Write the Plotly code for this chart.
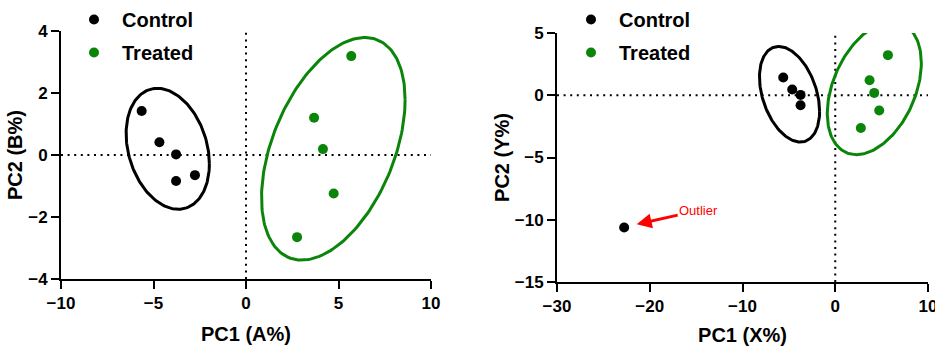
import numpy as np
import plotly.graph_objects as go

# ---------------- data ----------------
# Left panel (PC1 A% vs PC2 B%)
ctrl_a_x = [-5.64, -4.68, -3.78, -3.78, -2.76]
ctrl_a_y = [1.42, 0.41, 0.02, -0.84, -0.65]
trt_a_x = [5.69, 3.68, 4.16, 4.74, 2.76]
trt_a_y = [3.19, 1.20, 0.19, -1.24, -2.65]

# Right panel (PC1 X% vs PC2 Y%)
ctrl_b_x = [-5.61, -4.64, -3.74, -3.74, -22.76]
ctrl_b_y = [1.42, 0.46, 0.03, -0.80, -10.62]
trt_b_x = [5.68, 3.70, 4.20, 4.74, 2.76]
trt_b_y = [3.22, 1.21, 0.19, -1.23, -2.63]

# confidence ellipses: centre x, centre y, half-extent x, half-extent y, correlation
ell_ctrl_a = (-4.23, 0.20, 2.25, 1.95, -0.25)
ell_trt_a = (4.72, 0.20, 3.88, 3.59, 0.44)
ell_ctrl_b = (-4.93, 0.08, 3.24, 3.84, -0.36)
ell_trt_b = (4.21, 0.56, 5.07, 5.33, 0.38)

x_range_a = [-10, 10]
y_range_a = [-4, 4]
x_range_b = [-30, 10]
y_range_b = [-15, 5]
x_ticks_a = [-10, -5, 0, 5, 10]
y_ticks_a = [-4, -2, 0, 2, 4]
x_ticks_b = [-30, -20, -10, 0, 10]
y_ticks_b = [-15, -10, -5, 0, 5]

GREEN = "#0a850a"
BLACK = "#000000"
FONT = "Liberation Sans, Arial, sans-serif"


def ellipse(params, n=200):
    cx, cy, sx, sy, rho = params
    cov = np.array([[sx * sx, rho * sx * sy], [rho * sx * sy, sy * sy]])
    L = np.linalg.cholesky(cov)
    t = np.linspace(0, 2 * np.pi, n)
    pts = L @ np.vstack([np.cos(t), np.sin(t)])
    return pts[0] + cx, pts[1] + cy


fig = go.Figure()

panels = [
    ("x", "y", "legend", ctrl_a_x, ctrl_a_y, trt_a_x, trt_a_y, ell_ctrl_a, ell_trt_a),
    ("x2", "y2", "legend2", ctrl_b_x, ctrl_b_y, trt_b_x, trt_b_y, ell_ctrl_b, ell_trt_b),
]
for xa, ya, lg, cx_, cy_, tx_, ty_, ec, et in panels:
    ex, ey = ellipse(ec)
    fig.add_trace(go.Scatter(x=ex, y=ey, mode="lines", line=dict(color=BLACK, width=3),
                             xaxis=xa, yaxis=ya, showlegend=False, hoverinfo="skip"))
    ex, ey = ellipse(et)
    fig.add_trace(go.Scatter(x=ex, y=ey, mode="lines", line=dict(color=GREEN, width=3),
                             xaxis=xa, yaxis=ya, showlegend=False, hoverinfo="skip"))
    fig.add_trace(go.Scatter(x=cx_, y=cy_, mode="markers", name="Control",
                             marker=dict(color=BLACK, size=10), xaxis=xa, yaxis=ya,
                             legend=lg, legendgroup=lg + "c"))
    fig.add_trace(go.Scatter(x=tx_, y=ty_, mode="markers", name="Treated",
                             marker=dict(color=GREEN, size=10), xaxis=xa, yaxis=ya,
                             legend=lg, legendgroup=lg + "t"))

# dotted zero lines
dot = dict(color=BLACK, width=2, dash="2px,4.6px")
for xa, ya, xr, yr in [("x", "y", x_range_a, y_range_a), ("x2", "y2", x_range_b, y_range_b)]:
    fig.add_shape(type="line", xref=xa, yref=ya, x0=xr[0], x1=xr[1], y0=0, y1=0, line=dot, layer="below")
    fig.add_shape(type="line", xref=xa, yref=ya, x0=0, x1=0, y0=yr[0], y1=yr[1], line=dot, layer="below")

# outlier annotation
fig.add_annotation(x=ctrl_b_x[4] + 1.35, y=ctrl_b_y[4] + 0.25, xref="x2", yref="y2",
                   text="Outlier", showarrow=True, arrowhead=2, arrowsize=1, arrowwidth=3,
                   arrowcolor="#ff0000", ax=62, ay=-14,
                   font=dict(family=FONT, size=13, color="#ff0000"))

W, H = 935, 346
tickfont = dict(family=FONT, size=17, color=BLACK, weight="bold")
titlefont = dict(family=FONT, size=20, color=BLACK, weight="bold")
axis_common = dict(showline=True, linewidth=2, linecolor=BLACK, ticks="outside", ticklen=8,
                   tickwidth=2, tickcolor=BLACK, showgrid=False, zeroline=False,
                   tickfont=tickfont, mirror=False, ticklabeloverflow="allow")

fig.update_layout(
    width=W, height=H, margin=dict(l=0, r=0, t=0, b=0, autoexpand=False),
    plot_bgcolor="white", paper_bgcolor="white",
    xaxis=dict(domain=[61 / W, 431 / W], range=x_range_a, tickvals=x_ticks_a,
               title=dict(text="PC1 (A%)", font=titlefont), anchor="y", **axis_common),
    yaxis=dict(domain=[1 - 279 / H, 1 - 31 / H], range=y_range_a, tickvals=y_ticks_a,
               title=dict(text="PC2 (B%)", font=titlefont, standoff=0), anchor="x", **axis_common),
    xaxis2=dict(domain=[557 / W, 928 / W], range=x_range_b, tickvals=x_ticks_b,
                title=dict(text="PC1 (X%)", font=titlefont), anchor="y2", **axis_common),
    yaxis2=dict(domain=[1 - 282 / H, 1 - 33 / H], range=y_range_b, tickvals=y_ticks_b,
                title=dict(text="PC2 (Y%)", font=titlefont, standoff=0), anchor="x2", **axis_common),
    legend=dict(x=66 / W, y=1, xanchor="left", yanchor="top", font=dict(family=FONT, size=20, color=BLACK, weight="bold"),
                itemwidth=46, tracegroupgap=4, bgcolor="rgba(0,0,0,0)"),
    legend2=dict(x=563 / W, y=1, xanchor="left", yanchor="top", font=dict(family=FONT, size=20, color=BLACK, weight="bold"),
                 itemwidth=46, tracegroupgap=4, bgcolor="rgba(0,0,0,0)"),
    showlegend=True,
)

fig.write_html("out.html", config={"displayModeBar": False},
               post_script="document.body.style.margin='0';document.body.style.overflow='hidden';")
